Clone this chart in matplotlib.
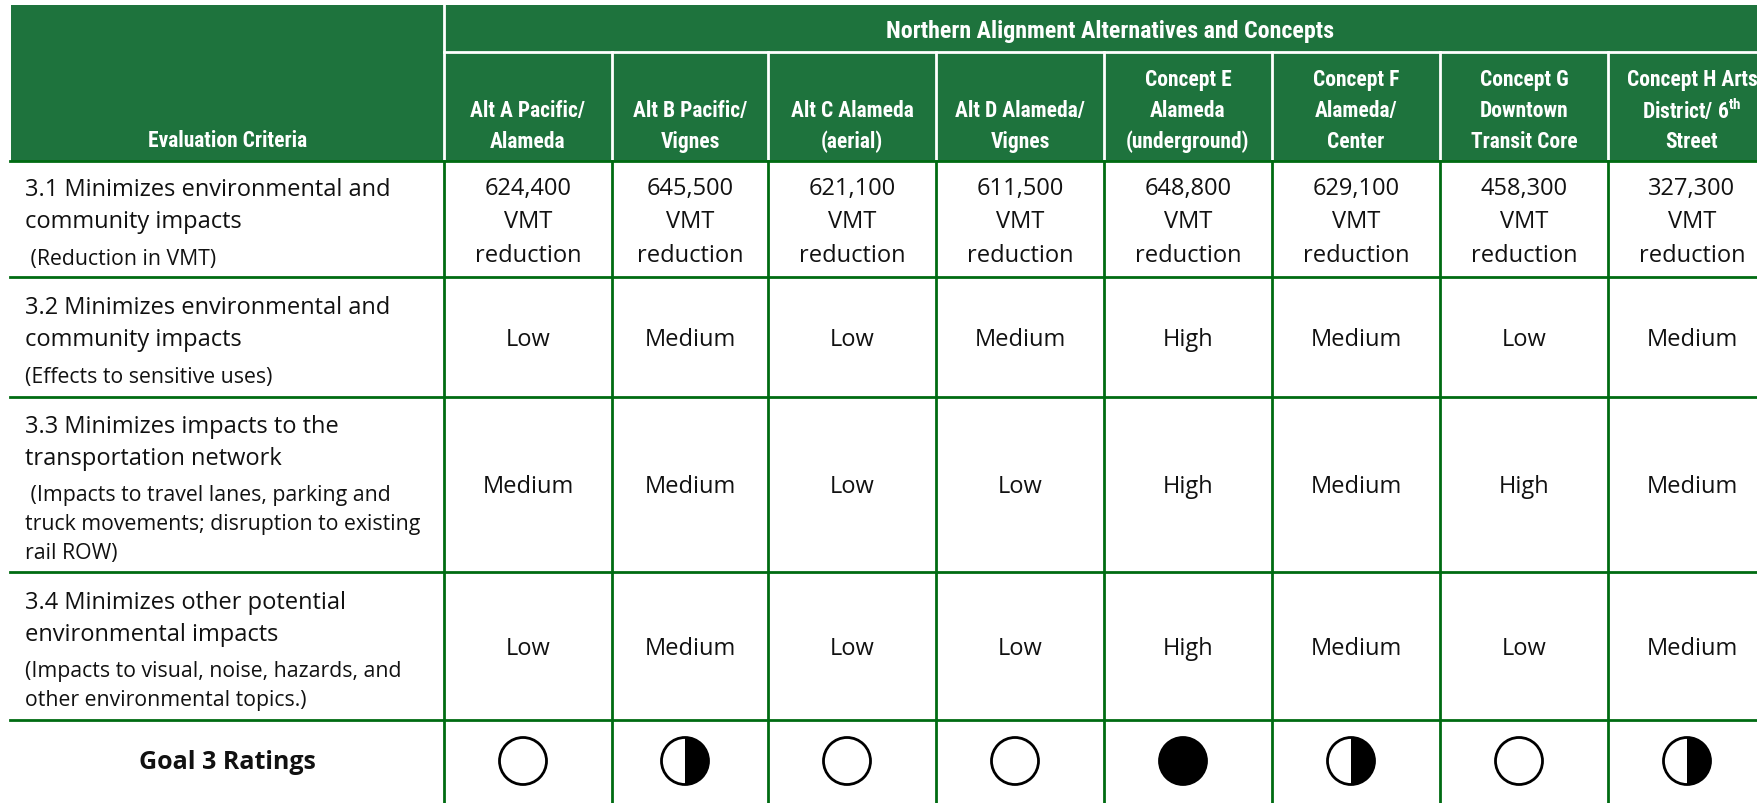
import matplotlib
matplotlib.use("Agg")
import matplotlib.pyplot as plt
from matplotlib import font_manager
from matplotlib.patches import Rectangle, Circle, Wedge

# ---- data ----
alternatives = ["Alt A Pacific/\nAlameda", "Alt B Pacific/\nVignes", "Alt C Alameda\n(aerial)",
                "Alt D Alameda/\nVignes", "Concept E\nAlameda\n(underground)", "Concept F\nAlameda/\nCenter",
                "Concept G\nDowntown\nTransit Core", "Concept H Arts\nDistrict/ 6$^{\\mathbf{th}}$\nStreet"]
criteria_main = ["3.1 Minimizes environmental and\ncommunity impacts",
                 "3.2 Minimizes environmental and\ncommunity impacts",
                 "3.3 Minimizes impacts to the\ntransportation network",
                 "3.4 Minimizes other potential\nenvironmental impacts"]
criteria_sub = [" (Reduction in VMT)",
                "(Effects to sensitive uses)",
                " (Impacts to travel lanes, parking and\ntruck movements; disruption to existing\nrail ROW)",
                "(Impacts to visual, noise, hazards, and\nother environmental topics.)"]
vmt_reduction = [624400, 645500, 621100, 611500, 648800, 629100, 458300, 327300]
sensitive_uses = ["Low", "Medium", "Low", "Medium", "High", "Medium", "Low", "Medium"]
transport_network = ["Medium", "Medium", "Low", "Low", "High", "Medium", "High", "Medium"]
other_impacts = ["Low", "Medium", "Low", "Low", "High", "Medium", "Low", "Medium"]
goal3_ratings = [0, 0.5, 0, 0, 1, 0.5, 0, 0.5]   # filled share of circle

# ---- layout (pixels) ----
W, H = 1758, 804
col_edges = [11, 444, 612, 768, 936, 1104, 1272, 1440, 1608, 1776]
head_top, band_bottom, head_bottom = 6, 53, 162
row_edges = [162, 278, 398, 573, 721, 804]
green_head = "#1e733d"
green_line = "#006b12"


def pick(cands):
    names = {f.name for f in font_manager.fontManager.ttflist}
    for c in cands:
        if c in names:
            return c
    return "DejaVu Sans"


head_font = pick(["Liberation Sans Narrow", "Roboto Condensed", "DejaVu Sans Condensed", "Roboto"])
body_font = pick(["Open Sans", "Noto Sans", "Lato"])
plt.rcParams["mathtext.fontset"] = "custom"
plt.rcParams["mathtext.bf"] = head_font + ":bold"

fig = plt.figure(figsize=(W / 100, H / 100), dpi=100)
ax = fig.add_axes([0, 0, 1, 1])
ax.set_xlim(0, W)
ax.set_ylim(H, 0)
ax.axis("off")

# header background
ax.add_patch(Rectangle((col_edges[0], head_top), col_edges[-1] - col_edges[0], head_bottom - head_top,
                       color=green_head, lw=0))
ax.plot([col_edges[1], col_edges[1]], [head_top, head_bottom], color="white", lw=2)
ax.plot([col_edges[1], W], [band_bottom, band_bottom], color="white", lw=2)
for x in col_edges[2:-1]:
    ax.plot([x, x], [band_bottom, head_bottom], color="white", lw=2)

hs = 15.5
ax.text((col_edges[1] + W) / 2 + 9, (head_top + band_bottom) / 2 + 2,
        "Northern Alignment Alternatives and Concepts", color="white", fontsize=17.3,
        fontweight="bold", family=head_font, ha="center", va="center")
ax.text((col_edges[0] + col_edges[1]) / 2, 141, "Evaluation Criteria", color="white", fontsize=hs,
        fontweight="bold", family=head_font, ha="center", va="center")
for i, lab in enumerate(alternatives):
    cx = (col_edges[i + 1] + col_edges[i + 2]) / 2
    lines = lab.split("\n")
    for j, ln in enumerate(lines):
        ax.text(cx, 142 - 31 * (len(lines) - 1 - j), ln, color="white", fontsize=hs,
                fontweight="bold", family=head_font, ha="center", va="center")

# body grid
for y in row_edges[:-1]:
    ax.plot([10, W], [y, y], color=green_line, lw=2)
for x in col_edges[1:-1]:
    ax.plot([x, x], [head_bottom, H], color=green_line, lw=2)

# criteria text
for r in range(4):
    main = criteria_main[r].split("\n")
    sub = criteria_sub[r].split("\n")
    ys = [0]
    for k in range(1, len(main)):
        ys.append(ys[-1] + 32)
    ys.append(ys[-1] + 37)
    for k in range(1, len(sub)):
        ys.append(ys[-1] + 29)
    mid = (row_edges[r] + row_edges[r + 1]) / 2 + 5
    off = mid - (ys[0] + ys[-1]) / 2
    for k, ln in enumerate(main + sub):
        small = k >= len(main)
        ax.text(25, ys[k] + off, ln, fontsize=15.3 if small else 17, family=body_font,
                color="#111111", ha="left", va="center")

ax.text((col_edges[0] + col_edges[1]) / 2, 763, "Goal 3 Ratings", fontsize=18, fontweight="bold",
        family=body_font, ha="center", va="center", color="#111111")

# values
rows_text = [sensitive_uses, transport_network, other_impacts]
for i in range(8):
    cx = (col_edges[i + 1] + col_edges[i + 2]) / 2
    for k, ln in enumerate([f"{vmt_reduction[i]:,}", "VMT", "reduction"]):
        ax.text(cx, 189 + 33.5 * k, ln, fontsize=17, family=body_font, ha="center",
                va="center", color="#111111")
    for r, vals in enumerate(rows_text):
        cy = (row_edges[r + 1] + row_edges[r + 2]) / 2 + 2
        ax.text(cx, cy, vals[i], fontsize=17, family=body_font, ha="center", va="center",
                color="#111111")
    # rating circles
    ccx, ccy, rad = cx - 5, 762, 23.5
    ax.add_patch(Circle((ccx, ccy), rad, facecolor="white", edgecolor="none"))
    if goal3_ratings[i] >= 1:
        ax.add_patch(Circle((ccx, ccy), rad, facecolor="black", edgecolor="none"))
    elif goal3_ratings[i] > 0:
        ax.add_patch(Wedge((ccx, ccy), rad, -90, 90, facecolor="black", edgecolor="none"))
    ax.add_patch(Circle((ccx, ccy), rad, facecolor="none", edgecolor="black", lw=2))

fig.savefig("out.png", dpi=100)
